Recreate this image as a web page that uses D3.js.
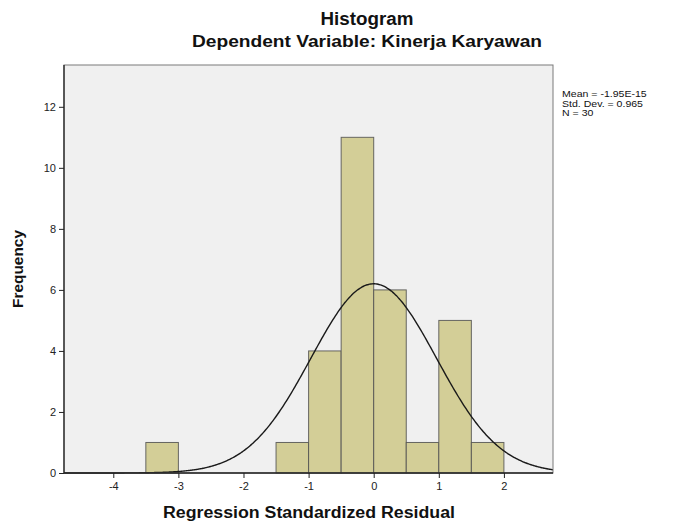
<!DOCTYPE html>
<html><head><meta charset="utf-8">
<script src="https://cdn.jsdelivr.net/npm/d3@7"></script>
<style>body{margin:0;background:#fff;}svg{display:block;font-family:"Liberation Sans",Arial,sans-serif;}</style>
</head><body><svg id="c" width="680" height="521"></svg>
<script>
const binStarts = [-3.5, -1.5, -1.0, -0.5, 0.0, 0.5, 1.0, 1.5];
const binWidth = 0.5;
const frequencies = [1, 1, 4, 11, 6, 1, 5, 1];
const xTicks = [-4, -3, -2, -1, 0, 1, 2];
const yTicks = [0, 2, 4, 6, 8, 10, 12];
const statsLines = ["Mean = -1.95E-15", "Std. Dev. = 0.965", "N = 30"];
const meanVal = -1.95e-15, sdVal = 0.965, nVal = 30;

const svg = d3.select("#c");
const L = 64, R = 553, T = 65, B = 473;
const x = d3.scaleLinear().domain([-4.757, 2.754]).range([L, R]);
const y = d3.scaleLinear().domain([0, 13.37]).range([B, T]);

svg.append("rect").attr("x", L).attr("y", T).attr("width", R - L).attr("height", B - T)
  .attr("fill", "#f0f0f0");

svg.append("g").selectAll("rect").data(binStarts).join("rect")
  .attr("x", d => x(d)).attr("width", d => x(d + binWidth) - x(d))
  .attr("y", (d, i) => y(frequencies[i])).attr("height", (d, i) => y(0) - y(frequencies[i]))
  .attr("fill", "#d3ce97").attr("stroke", "#505050").attr("stroke-opacity", 0.85).attr("stroke-width", 1);

const pts = d3.range(0, 401).map(i => {
  const xv = x.domain()[0] + (x.domain()[1] - x.domain()[0]) * i / 400;
  const z = (xv - meanVal) / sdVal;
  return [xv, nVal * binWidth * Math.exp(-0.5 * z * z) / (sdVal * Math.sqrt(2 * Math.PI))];
});
svg.append("path").datum(pts)
  .attr("d", d3.line().x(d => x(d[0])).y(d => y(d[1])).curve(d3.curveBasis))
  .attr("fill", "none").attr("stroke", "#1a1a1a").attr("stroke-width", 1.4);

// frame
svg.append("rect").attr("x", L).attr("y", T).attr("width", R - L).attr("height", B - T)
  .attr("fill", "none").attr("stroke", "#7a7a7a").attr("stroke-width", 1);
svg.append("line").attr("x1", L).attr("x2", L).attr("y1", T).attr("y2", B).attr("stroke", "#222").attr("stroke-width", 1.3);
svg.append("line").attr("x1", L).attr("x2", R).attr("y1", B).attr("y2", B).attr("stroke", "#222").attr("stroke-width", 1.3);

const xa = svg.append("g").attr("transform", `translate(0,${B})`)
  .call(d3.axisBottom(x).tickValues(xTicks).tickSize(5).tickPadding(4).tickFormat(d => String(d)));
xa.select(".domain").remove();
xa.selectAll("line").attr("stroke", "#222");
xa.selectAll("text").attr("font-size", 11).attr("fill", "#222").attr("font-family", "Liberation Sans, Arial, sans-serif");

const ya = svg.append("g").attr("transform", `translate(${L},0)`)
  .call(d3.axisLeft(y).tickValues(yTicks).tickSize(5).tickPadding(3).tickFormat(d => String(d)));
ya.select(".domain").remove();
ya.selectAll("line").attr("stroke", "#222");
ya.selectAll("text").attr("font-size", 11).attr("fill", "#222").attr("font-family", "Liberation Sans, Arial, sans-serif");

svg.append("text").attr("x", 367).attr("y", 25).attr("text-anchor", "middle")
  .attr("font-size", 17.5).attr("font-weight", "bold").attr("fill", "#111")
  .attr("textLength", 93).attr("lengthAdjust", "spacingAndGlyphs").text("Histogram");
svg.append("text").attr("x", 367).attr("y", 47).attr("text-anchor", "middle")
  .attr("font-size", 17).attr("font-weight", "bold").attr("fill", "#111")
  .attr("textLength", 350).attr("lengthAdjust", "spacingAndGlyphs").text("Dependent Variable: Kinerja Karyawan");

svg.append("text").attr("transform", "translate(23,269) rotate(-90)").attr("text-anchor", "middle")
  .attr("font-size", 14.5).attr("font-weight", "bold").attr("fill", "#111")
  .attr("textLength", 78).attr("lengthAdjust", "spacingAndGlyphs").text("Frequency");
svg.append("text").attr("x", 309).attr("y", 518).attr("text-anchor", "middle")
  .attr("font-size", 16).attr("font-weight", "bold").attr("fill", "#111")
  .attr("textLength", 292).attr("lengthAdjust", "spacingAndGlyphs").text("Regression Standardized Residual");

svg.append("g").attr("transform", "translate(562,0) scale(1.2,1)")
  .selectAll("text").data(statsLines).join("text")
  .attr("x", 0).attr("y", (d, i) => 97.5 + i * 9.2).attr("font-size", 8.8).attr("fill", "#111")
  .text(d => d);
</script></body></html>
